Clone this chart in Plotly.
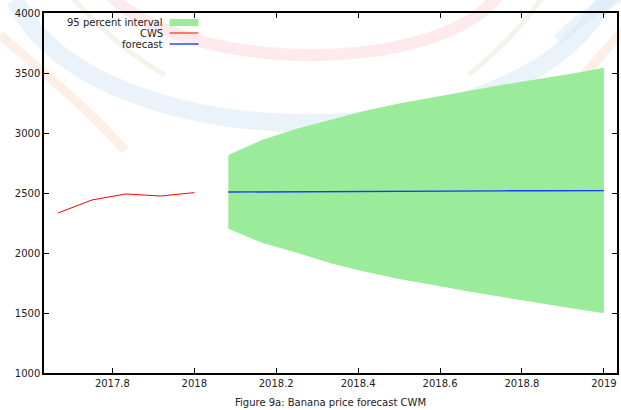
import plotly.graph_objects as go

# ---- data ----
cws_x = [2017.667, 2017.75, 2017.833, 2017.917, 2018.0]
cws_y = [2333, 2442, 2492, 2475, 2503]

fc_x = [2018.083, 2018.167, 2018.25, 2018.333, 2018.417, 2018.5,
        2018.583, 2018.667, 2018.75, 2018.833, 2018.917, 2019.0]
fc_y = [2508, 2510, 2512, 2513, 2514, 2515, 2516, 2517, 2518, 2519, 2520, 2520]
upper = [2817, 2944, 3035, 3112, 3185, 3246, 3298, 3350, 3400, 3446, 3492, 3544]
lower = [2203, 2083, 2003, 1914, 1844, 1783, 1733, 1681, 1631, 1589, 1542, 1497]

x_ticks = [2017.8, 2018.0, 2018.2, 2018.4, 2018.6, 2018.8, 2019.0]
x_tick_text = ["2017.8", "2018", "2018.2", "2018.4", "2018.6", "2018.8", "2019"]
y_ticks = [1000, 1500, 2000, 2500, 3000, 3500, 4000]

caption = "Figure 9a: Banana price forecast CWM"
legend_labels = ["95 percent interval", "CWS", "forecast"]

FONT = "DejaVu Sans"
W, H = 621, 410
L, R, T, B = 44, 619, 13, 373


def px(x):
    return (x - L) / (R - L)


def py(y):
    return (B - y) / (B - T)


fig = go.Figure()

fig.add_trace(go.Scatter(
    x=fc_x + fc_x[::-1], y=upper + lower[::-1],
    fill="toself", fillcolor="#9aeb9a", line=dict(width=0),
    mode="lines", hoverinfo="skip", showlegend=False))
fig.add_trace(go.Scatter(x=cws_x, y=cws_y, mode="lines",
                         line=dict(color="#ff0000", width=1), showlegend=False))
fig.add_trace(go.Scatter(x=fc_x, y=fc_y, mode="lines",
                         line=dict(color="#1a3cff", width=1.4), showlegend=False))

shapes = []


def arc(points, color, width):
    (x0, y0), (c1x, c1y), (c2x, c2y), (x1, y1) = points
    path = (f"M {px(x0)},{py(y0)} C {px(c1x)},{py(c1y)} "
            f"{px(c2x)},{py(c2y)} {px(x1)},{py(y1)}")
    shapes.append(dict(type="path", path=path, xref="paper", yref="paper",
                       line=dict(color=color, width=width), layer="below"))


# faint watermark arcs
arc([(15, 0), (90, 160), (520, 170), (610, -5)], "rgba(214,232,246,0.5)", 18)
arc([(110, -5), (190, 75), (440, 75), (500, -5)], "rgba(250,214,220,0.5)", 12)
arc([(70, -5), (110, 40), (140, 60), (165, 75)], "rgba(225,238,215,0.55)", 5)
arc([(470, 75), (500, 50), (530, 20), (545, -5)], "rgba(225,238,215,0.55)", 5)
arc([(0, 35), (40, 70), (90, 110), (125, 150)], "rgba(252,222,205,0.5)", 9)
arc([(585, 75), (600, 60), (612, 45), (625, 30)], "rgba(252,222,205,0.5)", 9)
arc([(560, 40), (580, 20), (600, 5), (625, -5)], "rgba(214,232,246,0.5)", 12)

# manual gnuplot-style legend
shapes.append(dict(type="rect", xref="paper", yref="paper",
                   x0=px(170), x1=px(199), y0=py(26), y1=py(19),
                   fillcolor="#9aeb9a", line=dict(width=0)))
shapes.append(dict(type="line", xref="paper", yref="paper",
                   x0=px(170), x1=px(199), y0=py(33), y1=py(33),
                   line=dict(color="#ff0000", width=1)))
shapes.append(dict(type="line", xref="paper", yref="paper",
                   x0=px(170), x1=px(199), y0=py(44), y1=py(44),
                   line=dict(color="#1a3cff", width=1.4)))

annotations = []
for lab, yy in zip(legend_labels, [22.5, 33, 44]):
    annotations.append(dict(text=lab, xref="paper", yref="paper",
                            x=px(165), y=py(yy), xanchor="right", yanchor="middle",
                            showarrow=False, font=dict(family=FONT, size=10, color="#222")))
annotations.append(dict(text=caption, xref="paper", yref="paper",
                        x=0.5, y=py(402), xanchor="center", yanchor="middle",
                        showarrow=False, font=dict(family=FONT, size=10, color="#222")))

axis_common = dict(showgrid=False, zeroline=False, showline=True, linecolor="#000",
                   linewidth=1.5, mirror="ticks", ticks="inside", ticklen=5,
                   tickcolor="#000", tickwidth=1,
                   tickfont=dict(family=FONT, size=10, color="#222"))

fig.update_layout(
    width=W, height=H,
    margin=dict(l=L, r=W - R, t=T, b=H - B),
    paper_bgcolor="white", plot_bgcolor="rgba(0,0,0,0)",
    xaxis=dict(range=[2017.633, 2019.032], tickvals=x_ticks, ticktext=x_tick_text,
               **axis_common),
    yaxis=dict(range=[1000, 4000], tickvals=y_ticks, **axis_common),
    shapes=shapes, annotations=annotations, showlegend=False,
)

fig.write_html("out.html", config={"displayModeBar": False},
               post_script="document.body.style.margin='0';document.body.style.overflow='hidden';")
